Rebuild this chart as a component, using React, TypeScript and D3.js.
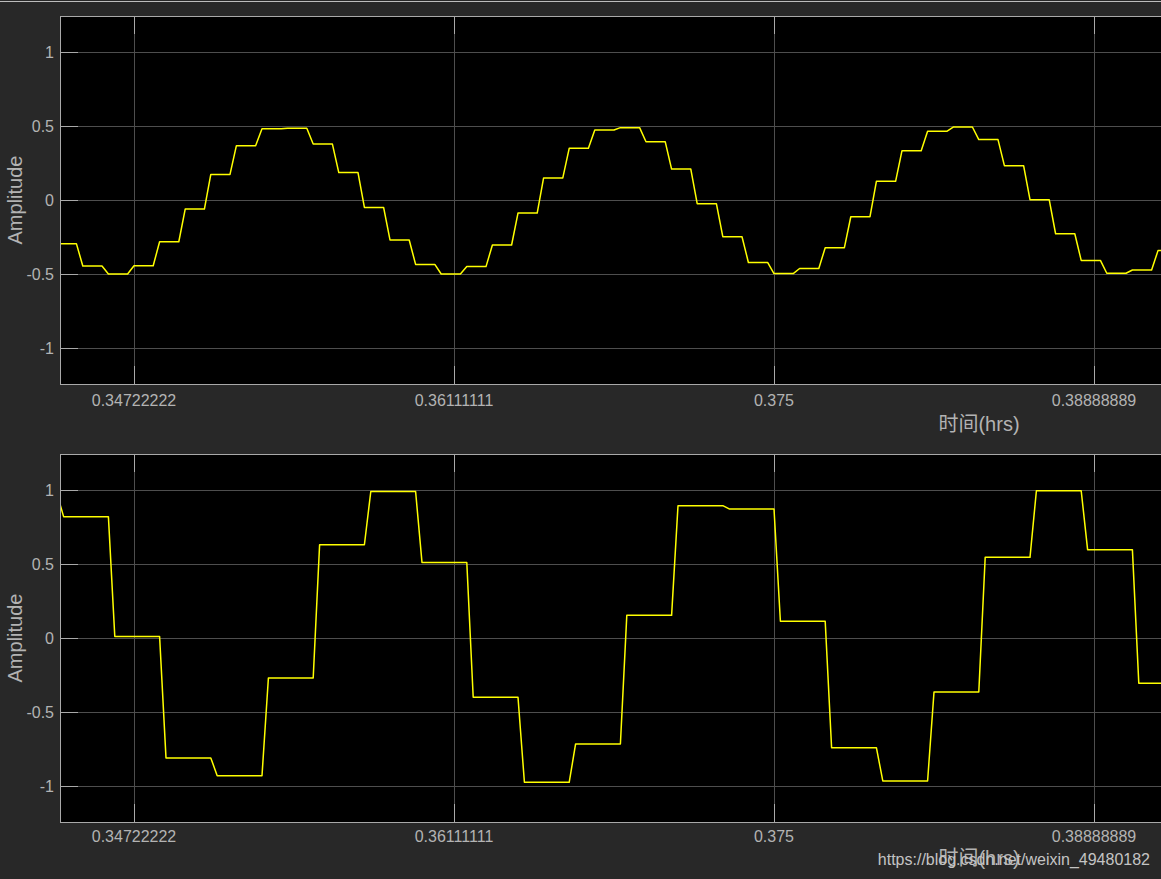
import { useRef, useEffect } from 'react';
import * as d3 from 'd3';

// time axis is kept in seconds, labels are shown in hours
const timeTicks = [1250, 1300, 1350, 1400];
const ampTicks = [-1, -0.5, 0, 0.5, 1];

const rampSec = 1;

// upper scope: zero-order hold, 4 s per level
const topStart = 1238;
const topHold = 4;
const topLevels = [
  -0.295, -0.446, -0.5, -0.444, -0.282, -0.061, 0.173, 0.367, 0.482, 0.485,
  0.378, 0.185, -0.05, -0.27, -0.435, -0.5, -0.45, -0.304, -0.088, 0.149,
  0.349, 0.473, 0.489, 0.394, 0.209, -0.025, -0.248, -0.422, -0.497, -0.463,
  -0.322, -0.113, 0.126, 0.333, 0.464, 0.493, 0.408, 0.232, 0.002, -0.228,
  -0.408, -0.495, -0.473, -0.342,
];

// lower scope: zero-order hold, 8 s per level
const bottomStart = 1231;
const bottomHold = 8;
const bottomLevels = [
  0.97, 0.82, 0.01, -0.81, -0.93, -0.27, 0.63, 0.99, 0.51, -0.4, -0.975, -0.716,
  0.153, 0.894, 0.872, 0.113, -0.741, -0.966, -0.365, 0.545, 0.995, 0.597, -0.306,
];

const W = 1161;
const H = 879;
const FONT = '"Liberation Sans", Arial, "Noto Sans CJK SC", sans-serif';
const TEXT = '#b3b3b3';
const GRID = '#4e4e4e';
const FRAME = '#a9a9a9';

function stepPoints(start: number, hold: number, levels: number[]) {
  const pts: [number, number][] = [];
  levels.forEach((v, i) => {
    const t = start + i * hold;
    pts.push([t, v]);
    pts.push([t + hold - rampSec, v]);
  });
  return pts;
}

const hrsLabel = (s: number) => String(+(s / 3600).toFixed(8));

export default function App() {
  const svgRef = useRef<SVGSVGElement>(null);

  useEffect(() => {
    if (!svgRef.current) return;
    const svg = d3.select(svgRef.current);
    svg.selectAll('*').remove();

    svg.append('rect').attr('width', W).attr('height', H).attr('fill', '#282828');
    svg.append('rect').attr('x', 0).attr('y', 1).attr('width', W).attr('height', 1).attr('fill', '#bdbdbd');

    // the axes run past the right edge of the window, as in the screenshot
    const left = 60;
    const right = 1898;
    const x = d3.scaleLinear().domain([1238.4375, 1525.625]).range([left, right]);

    const panels = [
      { top: 16, bottom: 384, pts: stepPoints(topStart, topHold, topLevels), tickY: 400, labelY: 424 },
      { top: 454, bottom: 822, pts: stepPoints(bottomStart, bottomHold, bottomLevels), tickY: 836, labelY: 858 },
    ];

    panels.forEach((p, idx) => {
      const y = d3.scaleLinear().domain([-1.2432, 1.2432]).range([p.bottom, p.top]);
      const g = svg.append('g');
      const cx = (v: number) => Math.round(x(v)) + 0.5;
      const cy = (v: number) => Math.round(y(v)) + 0.5;

      g.append('rect')
        .attr('x', left).attr('y', p.top)
        .attr('width', right - left).attr('height', p.bottom - p.top)
        .attr('fill', '#000');

      // grid
      g.selectAll('.hg').data(ampTicks).join('line')
        .attr('x1', left).attr('x2', right)
        .attr('y1', d => cy(d)).attr('y2', d => cy(d))
        .attr('stroke', GRID);
      g.selectAll('.vg').data(timeTicks).join('line')
        .attr('x1', d => cx(d)).attr('x2', d => cx(d))
        .attr('y1', p.top).attr('y2', p.bottom)
        .attr('stroke', GRID);

      // tick marks inside the box
      g.selectAll('.yt').data(ampTicks).join('line')
        .attr('x1', left).attr('x2', left + 18)
        .attr('y1', d => cy(d)).attr('y2', d => cy(d))
        .attr('stroke', FRAME);
      timeTicks.forEach(t => {
        g.append('line').attr('x1', cx(t)).attr('x2', cx(t))
          .attr('y1', p.bottom - 18).attr('y2', p.bottom).attr('stroke', FRAME);
        g.append('line').attr('x1', cx(t)).attr('x2', cx(t))
          .attr('y1', p.top).attr('y2', p.top + 18).attr('stroke', FRAME);
      });

      // signal
      const clipId = `clip${idx}`;
      g.append('clipPath').attr('id', clipId).append('rect')
        .attr('x', left).attr('y', p.top)
        .attr('width', right - left).attr('height', p.bottom - p.top);
      const line = d3.line<[number, number]>().x(d => x(d[0])).y(d => y(d[1]));
      g.append('path')
        .datum(p.pts)
        .attr('clip-path', `url(#${clipId})`)
        .attr('fill', 'none')
        .attr('stroke', '#ffff00')
        .attr('stroke-width', 1.5)
        .attr('stroke-linejoin', 'round')
        .attr('d', line);

      g.append('rect')
        .attr('x', left + 0.5).attr('y', p.top + 0.5)
        .attr('width', right - left).attr('height', p.bottom - p.top)
        .attr('fill', 'none').attr('stroke', FRAME);

      // labels
      g.selectAll('.yl').data(ampTicks).join('text')
        .attr('x', 54).attr('y', d => y(d)).attr('dy', '0.36em')
        .attr('text-anchor', 'end')
        .attr('font-family', FONT).attr('font-size', 16).attr('fill', TEXT)
        .text(d => String(d));
      g.selectAll('.xl').data(timeTicks).join('text')
        .attr('x', d => x(d)).attr('y', p.tickY).attr('dy', '0.36em')
        .attr('text-anchor', 'middle')
        .attr('font-family', FONT).attr('font-size', 16).attr('fill', TEXT)
        .text(d => hrsLabel(d));

      g.append('text')
        .attr('transform', `translate(22,${(p.top + p.bottom) / 2}) rotate(-90)`)
        .attr('text-anchor', 'middle')
        .attr('font-family', FONT).attr('font-size', 20).attr('fill', TEXT)
        .text('Amplitude');
      g.append('text')
        .attr('x', (left + right) / 2).attr('y', p.labelY).attr('dy', '0.36em')
        .attr('text-anchor', 'middle')
        .attr('font-family', FONT).attr('font-size', 20).attr('fill', TEXT)
        .text('时间(hrs)');
    });

    // watermark sits over the lower axis title in the screenshot
    svg.append('text')
      .attr('x', 1150).attr('y', 859).attr('dy', '0.36em')
      .attr('text-anchor', 'end')
      .attr('font-family', FONT).attr('font-size', 16).attr('fill', '#c4c4c4')
      .text('https://blog.csdn.net/weixin_49480182');
  }, []);

  return (
    <svg
      ref={svgRef}
      width={W}
      height={H}
      style={{ position: 'fixed', left: 0, top: 0, display: 'block' }}
    />
  );
}
